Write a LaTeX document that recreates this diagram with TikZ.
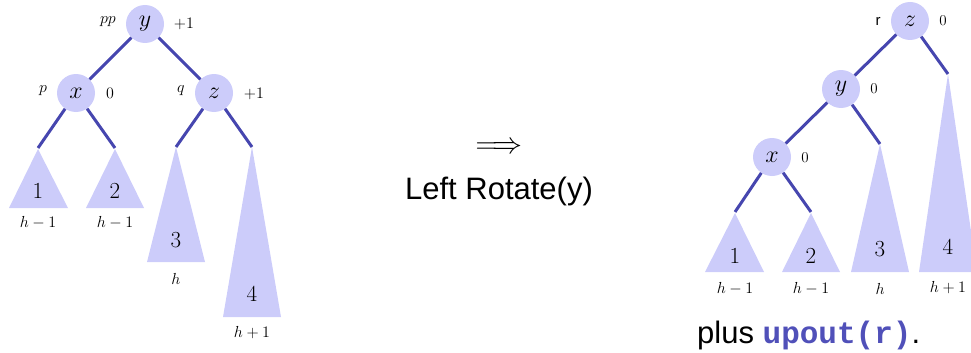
\RequirePackage{fix-cm}
\documentclass[tikz,border=0pt]{standalone}
\usepackage{fontspec}
\setsansfont{Liberation Sans}
\setmonofont{Liberation Mono}
\definecolor{nodefill}{RGB}{204,204,250}
\definecolor{edgec}{RGB}{70,70,175}
\definecolor{codec}{RGB}{80,80,185}
\tikzset{
  tn/.style={circle,fill=nodefill,minimum size=38pt,inner sep=0pt,font=\fontsize{24}{26}\selectfont},
  lab/.style={inner sep=0pt,font=\fontsize{16}{18}\selectfont},
  tri/.style={fill=nodefill},
  tnum/.style={inner sep=0pt,font=\fontsize{23}{25}\selectfont},
  edge/.style={draw=edgec,line width=3pt},
  big/.style={inner sep=0pt,font=\fontsize{31}{34}\selectfont\sffamily}
}
\begin{document}
\begin{tikzpicture}[x=1pt,y=-1pt]
\useasboundingbox (0,0) rectangle (971,353);
% ---------- left tree ----------
\fill[tri] (38,149) -- (68,208) -- (9,208) -- cycle;
\fill[tri] (115,149) -- (144,208) -- (86,208) -- cycle;
\fill[tri] (176,147) -- (205,262) -- (147,262) -- cycle;
\fill[tri] (252,147) -- (281,317) -- (223,317) -- cycle;
\coordinate (a1) at (38,148);
\coordinate (a2) at (115,148);
\coordinate (a3) at (176,147);
\coordinate (a4) at (252,147);
\node[tn] (ly) at (145,24) {$y$};
\node[tn] (lx) at (76,93) {$x$};
\node[tn] (lz) at (214,93) {$z$};
\draw[edge] (ly) -- (lx);
\draw[edge] (ly) -- (lz);
\draw[edge] (lx) -- (a1);
\draw[edge] (lx) -- (a2);
\draw[edge] (lz) -- (a3);
\draw[edge] (lz) -- (a4);
\node[lab] (lpp) at (108,22) {$pp$};
\node[lab] (lyb) at (184,24) {$+1$};
\node[lab] (lp) at (43,91) {$p$};
\node[lab] (lxb) at (110,93) {$0$};
\node[lab] (lq) at (181,91) {$q$};
\node[lab] (lzb) at (254,94) {$+1$};
\node[tnum] (l1) at (38,191) {$1$};
\node[tnum] (l2) at (115,191) {$2$};
\node[tnum] (l3) at (176,240) {$3$};
\node[tnum] (l4) at (252,294) {$4$};
\node[lab] (lh1) at (38,223) {$h-1$};
\node[lab] (lh2) at (115,223) {$h-1$};
\node[lab] (lh3) at (176,279) {$h$};
\node[lab] (lh4) at (252,333) {$h+1$};
% ---------- middle ----------
\node[inner sep=0pt,font=\fontsize{30}{32}\selectfont] (arr) at (499,148) {$\Longrightarrow$};
\node[big] (rot) at (499,191) {Left Rotate(y)};
% ---------- right tree ----------
\fill[tri] (735,213) -- (764,272) -- (705,272) -- cycle;
\fill[tri] (811,213) -- (840,272) -- (782,272) -- cycle;
\fill[tri] (880,144) -- (909,272) -- (851,272) -- cycle;
\fill[tri] (948,74) -- (977,272) -- (919,272) -- cycle;
\coordinate (b1) at (735,212);
\coordinate (b2) at (811,212);
\coordinate (b3) at (880,144);
\coordinate (b4) at (948,74);
\node[tn] (rz) at (910,21) {$z$};
\node[tn] (ry) at (841,89) {$y$};
\node[tn] (rx) at (772,157) {$x$};
\draw[edge] (rz) -- (ry);
\draw[edge] (rz) -- (b4);
\draw[edge] (ry) -- (rx);
\draw[edge] (ry) -- (b3);
\draw[edge] (rx) -- (b1);
\draw[edge] (rx) -- (b2);
\node[lab,font=\fontsize{15}{17}\selectfont\sffamily] (rr) at (878,21) {r};
\node[lab,font=\fontsize{15}{17}\selectfont] (rzb) at (943,21) {$0$};
\node[lab,font=\fontsize{15}{17}\selectfont] (ryb) at (874,89) {$0$};
\node[lab,font=\fontsize{15}{17}\selectfont] (rxb) at (805,158) {$0$};
\node[tnum] (r1) at (735,256) {$1$};
\node[tnum] (r2) at (811,256) {$2$};
\node[tnum] (r3) at (880,249) {$3$};
\node[tnum] (r4) at (948,247) {$4$};
\node[lab] (rh1) at (735,289) {$h-1$};
\node[lab] (rh2) at (811,289) {$h-1$};
\node[lab] (rh3) at (880,289) {$h$};
\node[lab] (rh4) at (948,288) {$h+1$};
\node[big,anchor=base west] (plus) at (697,343) {plus \textcolor{codec}{\ttfamily\bfseries upout(r)}.};
\end{tikzpicture}
\end{document}
